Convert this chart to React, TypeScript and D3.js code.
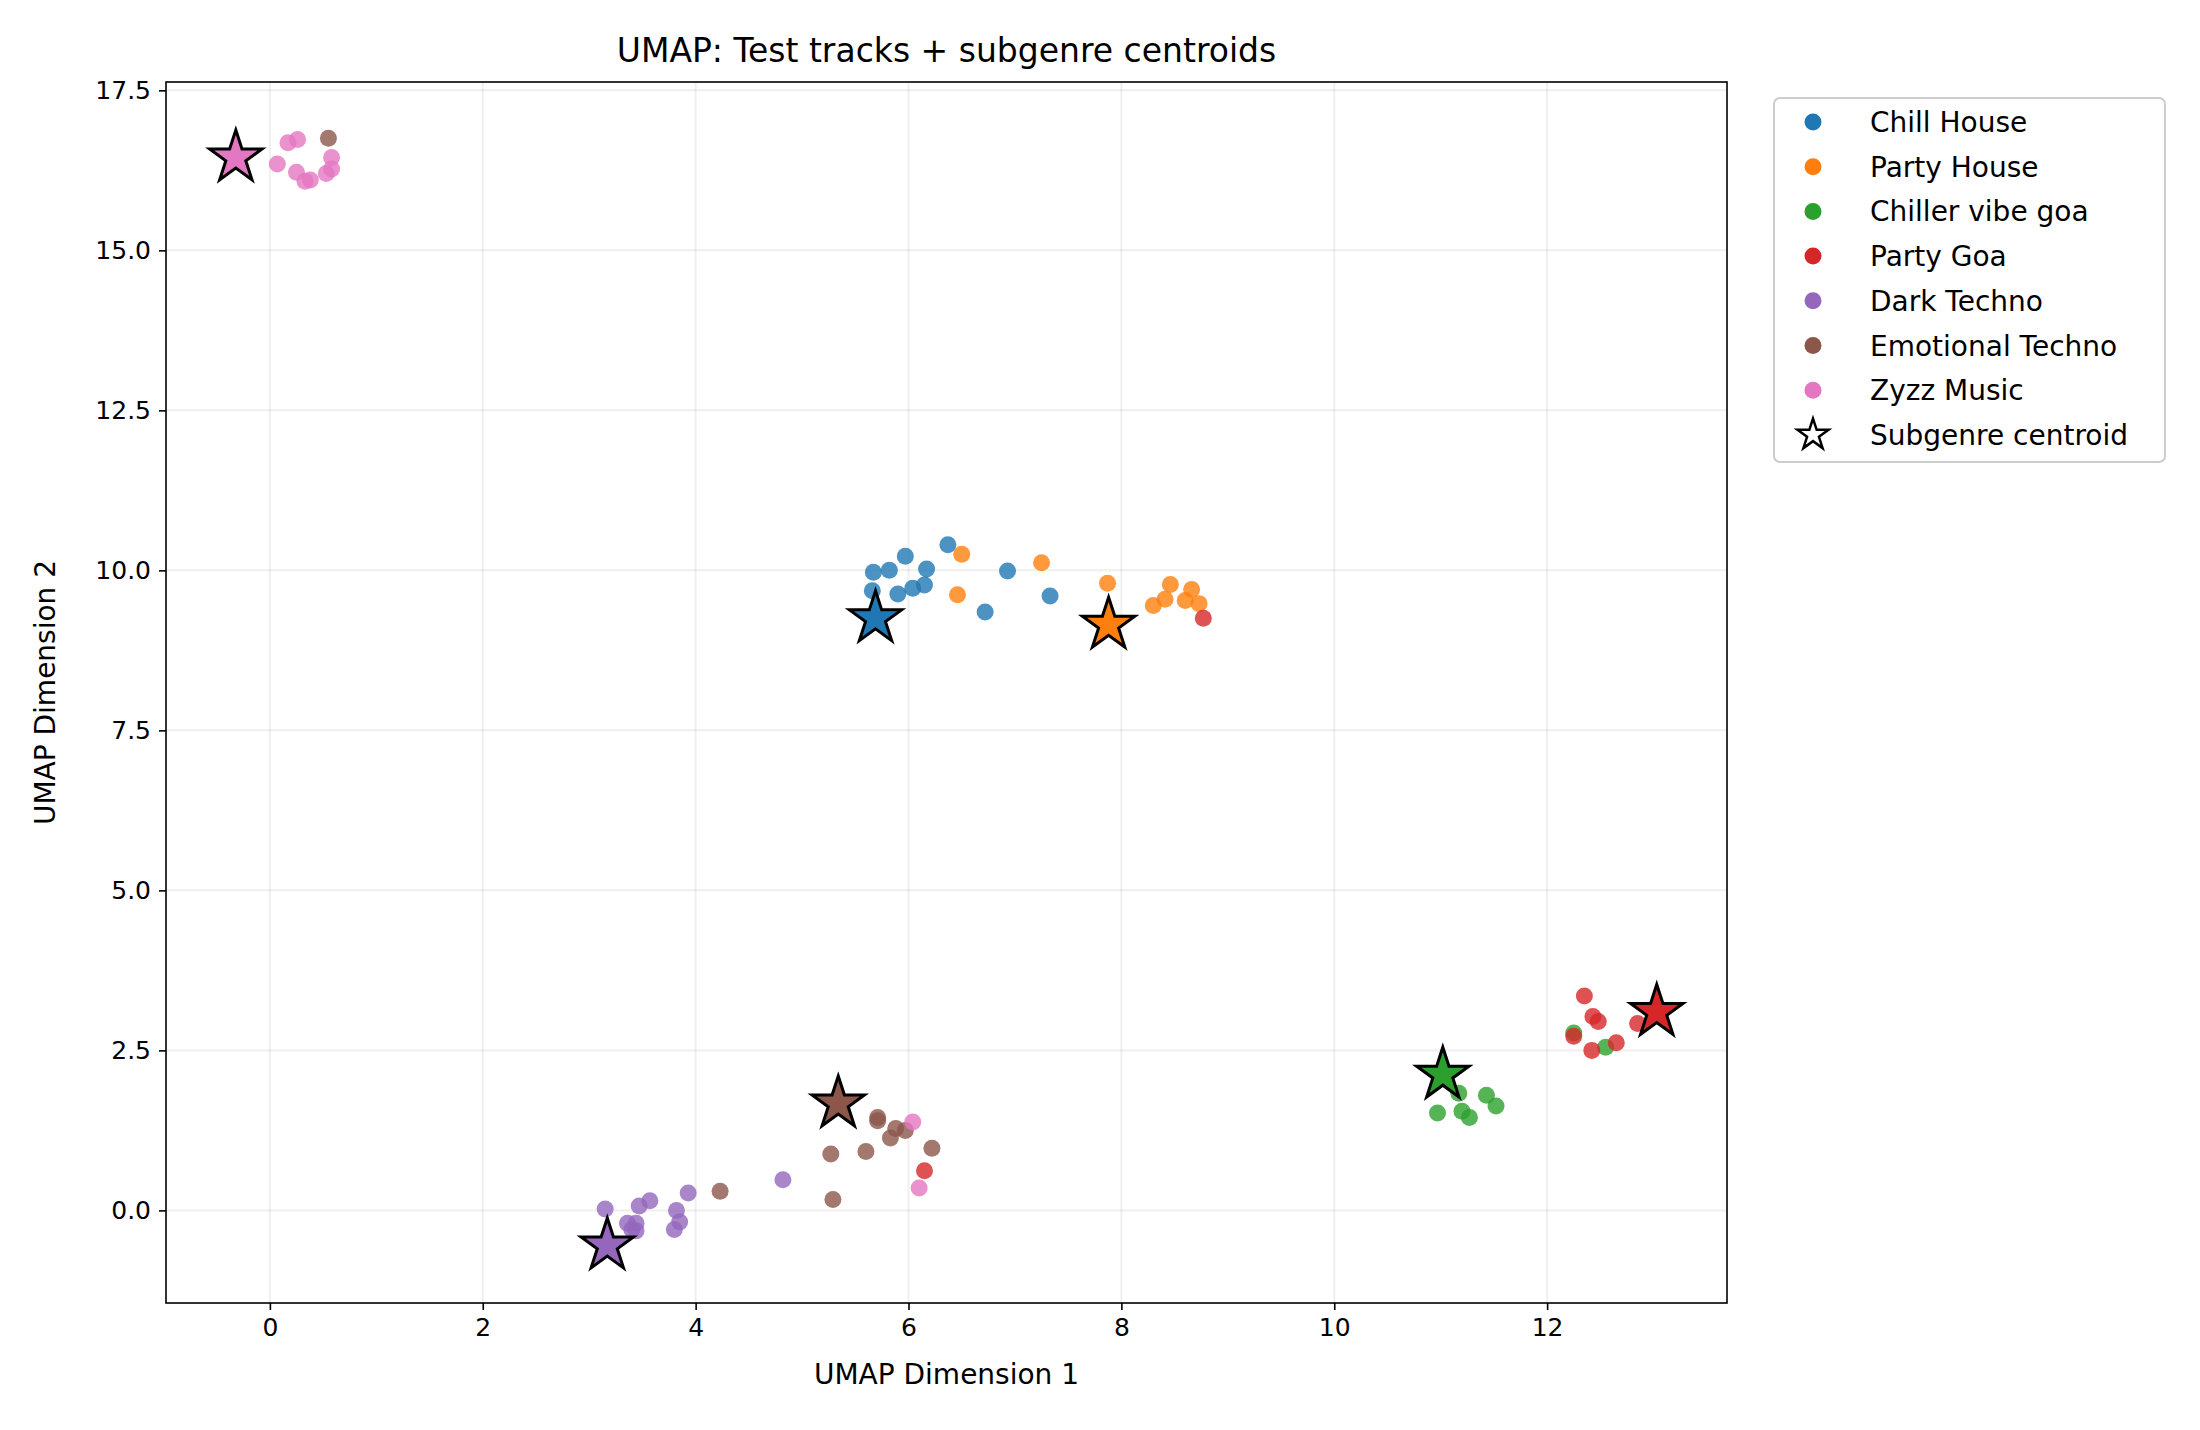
import { useEffect, useRef } from 'react';
import * as d3 from 'd3';

type Pt = [number, number];

const genres = ['Chill House', 'Party House', 'Chiller vibe goa', 'Party Goa', 'Dark Techno', 'Emotional Techno', 'Zyzz Music'];
const colors = ['#1f77b4', '#ff7f0e', '#2ca02c', '#d62728', '#9467bd', '#8c564b', '#e377c2'];

const chillHouse: Pt[] = [[5.67, 9.97], [5.82, 10.0], [5.97, 10.22], [6.37, 10.4], [6.17, 10.02], [5.66, 9.68], [5.9, 9.63], [6.04, 9.72], [6.15, 9.77], [6.93, 9.99], [6.72, 9.35], [7.33, 9.6]];
const partyHouse: Pt[] = [[6.5, 10.25], [6.46, 9.62], [7.25, 10.12], [7.87, 9.8], [8.46, 9.78], [8.66, 9.7], [8.41, 9.55], [8.3, 9.45], [8.6, 9.53], [8.73, 9.48]];
const chillerGoa: Pt[] = [[12.25, 2.77], [12.55, 2.55], [11.17, 1.83], [11.43, 1.8], [11.52, 1.63], [10.97, 1.52], [11.2, 1.55], [11.27, 1.45]];
const partyGoa: Pt[] = [[8.77, 9.25], [12.35, 3.35], [12.43, 3.03], [12.48, 2.95], [12.25, 2.72], [12.65, 2.62], [12.42, 2.5], [12.85, 2.92], [6.15, 0.62]];
const darkTechno: Pt[] = [[3.15, 0.02], [3.47, 0.07], [3.57, 0.15], [3.93, 0.27], [3.82, 0.0], [3.36, -0.2], [3.44, -0.2], [3.85, -0.18], [3.4, -0.3], [3.8, -0.3], [3.44, -0.32], [4.82, 0.48]];
const emotionalTechno: Pt[] = [[0.55, 16.75], [4.23, 0.3], [5.27, 0.88], [5.6, 0.92], [5.29, 0.17], [5.71, 1.45], [5.71, 1.4], [5.88, 1.28], [5.97, 1.25], [5.83, 1.13], [6.22, 0.97]];
const zyzz: Pt[] = [[0.07, 16.35], [0.17, 16.68], [0.26, 16.73], [0.25, 16.22], [0.33, 16.08], [0.38, 16.1], [0.53, 16.2], [0.58, 16.45], [0.58, 16.27], [6.04, 1.38], [6.1, 0.35]];
const series = [chillHouse, partyHouse, chillerGoa, partyGoa, darkTechno, emotionalTechno, zyzz];

const centroids: Pt[] = [[5.69, 9.25], [7.88, 9.15], [11.02, 2.12], [13.03, 3.1], [3.17, -0.55], [5.34, 1.67], [-0.32, 16.45]];

const xTicks = [0, 2, 4, 6, 8, 10, 12];
const yTicks = [0, 2.5, 5, 7.5, 10, 12.5, 15, 17.5];

const App = () => {
    const svgRef = useRef<SVGSVGElement>(null);

    useEffect(() => {
        if (!svgRef.current) return;
        document.body.style.margin = '0';
        d3.select(svgRef.current).selectAll('*').remove();

        const W = 2200, H = 1430;
        const m = { left: 166, right: 1727, top: 82, bottom: 1303 };
        const font = 'DejaVu Sans, sans-serif';

        const svg = d3.select(svgRef.current).attr('width', W).attr('height', H)
            .style('font-family', font);
        svg.append('rect').attr('width', W).attr('height', H).attr('fill', 'white');

        const x = d3.scaleLinear().domain([-0.976, 13.69]).range([m.left, m.right]);
        const y = d3.scaleLinear().domain([-1.447, 17.63]).range([m.bottom, m.top]);

        // grid
        const grid = svg.append('g').attr('stroke', '#b0b0b0').attr('stroke-opacity', 0.2).attr('stroke-width', 2);
        xTicks.forEach(t => grid.append('line').attr('x1', x(t)).attr('x2', x(t)).attr('y1', m.top).attr('y2', m.bottom));
        yTicks.forEach(t => grid.append('line').attr('y1', y(t)).attr('y2', y(t)).attr('x1', m.left).attr('x2', m.right));

        // points
        const star = d3.symbol().type(d3.symbolStar).size(850);
        series.forEach((pts, i) => {
            svg.append('g').selectAll('circle').data(pts).join('circle')
                .attr('cx', d => x(d[0])).attr('cy', d => y(d[1])).attr('r', 8.5)
                .attr('fill', colors[i]).attr('fill-opacity', 0.8);
        });
        centroids.forEach((c, i) => {
            svg.append('path').attr('d', star)
                .attr('transform', `translate(${x(c[0])},${y(c[1])})`)
                .attr('fill', colors[i]).attr('stroke', 'black').attr('stroke-width', 3)
                .attr('stroke-linejoin', 'miter');
        });

        // axes
        const xAxis = svg.append('g').attr('transform', `translate(0,${m.bottom})`)
            .call(d3.axisBottom(x).tickValues(xTicks).tickFormat(d3.format('d')).tickSize(7).tickPadding(8));
        const yAxis = svg.append('g').attr('transform', `translate(${m.left},0)`)
            .call(d3.axisLeft(y).tickValues(yTicks).tickFormat(d3.format('.1f')).tickSize(7).tickPadding(8));
        [xAxis, yAxis].forEach(a => {
            a.select('.domain').remove();
            a.selectAll('line').attr('stroke', 'black').attr('stroke-width', 1.6);
            a.selectAll('text').attr('font-size', 25).attr('font-family', font).attr('fill', 'black');
        });
        svg.append('rect').attr('x', m.left).attr('y', m.top).attr('width', m.right - m.left).attr('height', m.bottom - m.top)
            .attr('fill', 'none').attr('stroke', 'black').attr('stroke-width', 1.6);

        // labels
        svg.append('text').attr('x', (m.left + m.right) / 2).attr('y', 62).attr('text-anchor', 'middle')
            .attr('font-size', 33).text('UMAP: Test tracks + subgenre centroids');
        svg.append('text').attr('x', (m.left + m.right) / 2).attr('y', 1384).attr('text-anchor', 'middle')
            .attr('font-size', 28).text('UMAP Dimension 1');
        svg.append('text').attr('transform', `translate(55,${(m.top + m.bottom) / 2}) rotate(-90)`).attr('text-anchor', 'middle')
            .attr('font-size', 28).text('UMAP Dimension 2');

        // legend
        const lg = svg.append('g');
        lg.append('rect').attr('x', 1774).attr('y', 98).attr('width', 391).attr('height', 364).attr('rx', 6)
            .attr('fill', 'white').attr('stroke', '#cccccc').attr('stroke-width', 2);
        const labels = [...genres, 'Subgenre centroid'];
        labels.forEach((lab, i) => {
            const ly = 122 + i * 44.7;
            if (i < genres.length) {
                lg.append('circle').attr('cx', 1813).attr('cy', ly).attr('r', 8.5).attr('fill', colors[i]);
            } else {
                lg.append('path').attr('d', d3.symbol().type(d3.symbolStar).size(300))
                    .attr('transform', `translate(1813,${ly})`).attr('fill', 'white').attr('stroke', 'black').attr('stroke-width', 2.5);
            }
            lg.append('text').attr('x', 1870).attr('y', ly + 10).attr('font-size', 28).text(lab);
        });
    }, []);

    return <svg ref={svgRef}></svg>;
};

export default App;
